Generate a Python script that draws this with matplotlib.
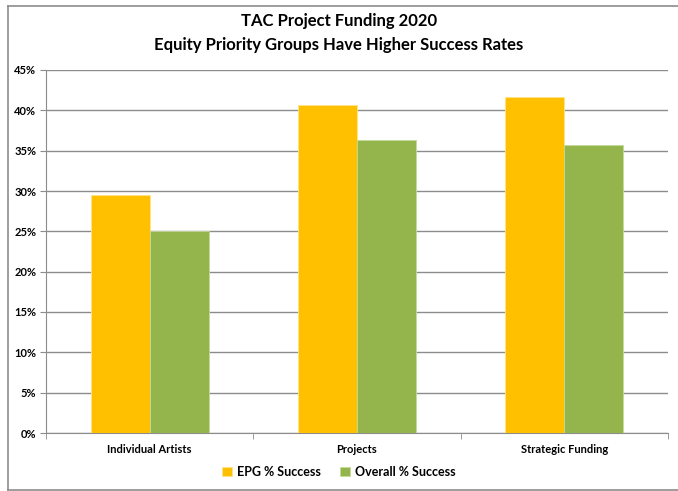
import matplotlib
matplotlib.use("Agg")
import matplotlib.pyplot as plt
from matplotlib.lines import Line2D
from matplotlib.ticker import FuncFormatter, FixedLocator
import numpy as np

categories = ["Individual Artists", "Projects", "Strategic Funding"]
epg = [29.5, 40.6, 41.6]
overall = [25.0, 36.3, 35.7]
series_names = ["EPG % Success", "Overall % Success"]
yticks = [0, 5, 10, 15, 20, 25, 30, 35, 40, 45]

plt.rcParams['font.family'] = ['Lato', 'DejaVu Sans']

W, H = 678, 491
fig = plt.figure(figsize=(W/100, H/100), dpi=100)
ax = fig.add_axes([46/W, 1-433/H, (668-46)/W, (433-70)/H])

x = np.arange(len(categories))
w = 0.285
ax.bar(x - w/2, epg, w, color="#FFC000", edgecolor="#FFE38A", linewidth=0.6, label=series_names[0], zorder=3)
ax.bar(x + w/2, overall, w, color="#93B54C", edgecolor="#C5D99B", linewidth=0.6, label=series_names[1], zorder=3)

ax.set_xlim(-0.5, len(categories) - 0.5)
ax.set_ylim(0, 45)
ax.set_yticks(yticks)
ax.yaxis.set_major_formatter(FuncFormatter(lambda v, p: f"{int(v)}%"))
ax.yaxis.grid(True, color="#8C8C8C", linewidth=1.0, zorder=0)
ax.set_xticks(x)
ax.set_xticklabels(categories, fontsize=8, fontweight="bold")
ax.xaxis.set_minor_locator(FixedLocator([-0.5, 0.5, 1.5, 2.5]))
ax.tick_params(axis="x", which="major", length=0, pad=8)
ax.tick_params(axis="x", which="minor", length=4, color="#8C8C8C")
ax.tick_params(axis="y", length=4, color="#8C8C8C", labelsize=8, pad=3)
for lab in ax.get_yticklabels():
    lab.set_fontweight("bold")
for s in ["top", "right"]:
    ax.spines[s].set_visible(False)
ax.spines["left"].set_color("#8C8C8C")
ax.spines["bottom"].set_color("#8C8C8C")

fig.text(0.5, 1-21/H, "TAC Project Funding 2020", ha="center", va="center", fontsize=12, fontweight="bold")
fig.text(0.5, 1-45/H, "Equity Priority Groups Have Higher Success Rates", ha="center", va="center", fontsize=12, fontweight="bold")

fig.legend(loc="center", bbox_to_anchor=(0.5, 1-472/H), ncol=2, frameon=False,
           handlelength=0.8, handleheight=0.8, columnspacing=1.5, handletextpad=0.4,
           prop={"weight": "bold", "size": 9})

border = dict(transform=fig.transFigure, color="#8C8C8C", linewidth=1.2)
fig.lines.append(Line2D([8/W, 1.01], [1-6/H, 1-6/H], **border))
fig.lines.append(Line2D([8/W, 8/W], [1-6/H, 1-490/H], **border))
fig.lines.append(Line2D([8/W, 1.01], [1-490/H, 1-490/H], **border))

fig.savefig("out.png", dpi=100)
